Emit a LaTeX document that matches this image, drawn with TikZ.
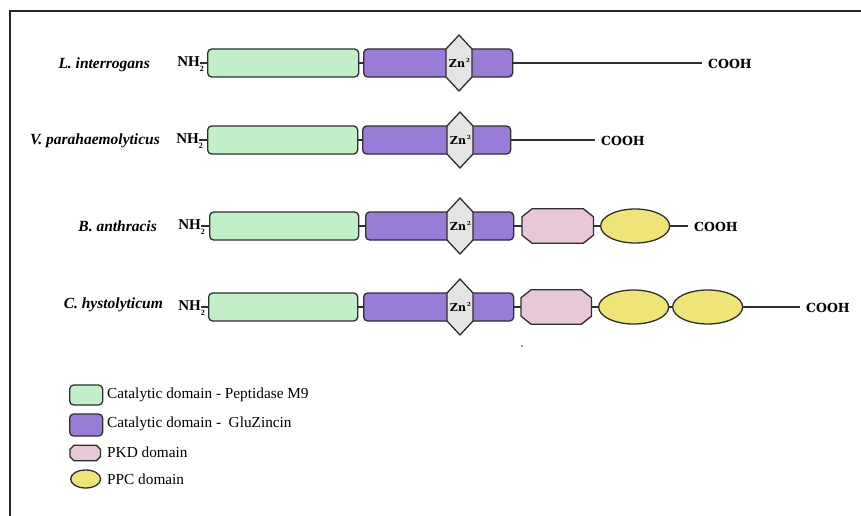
\documentclass[tikz,border=0pt]{standalone}
\usepackage{fontspec}
\setmainfont{Liberation Serif}
\newfontfamily\slabfont{DejaVu Serif}
\usetikzlibrary{shapes.geometric}
\definecolor{edge}{HTML}{2E2E2E}
\definecolor{cgreen}{HTML}{C1F0C8}
\definecolor{cpurple}{HTML}{9A7BD5}
\definecolor{cgrey}{HTML}{E4E4E4}
\definecolor{cpink}{HTML}{E6C8D8}
\definecolor{cyellow}{HTML}{EEE478}
\newcommand\pkdshape[1]{%
  \draw[pkdline] ([xshift=10pt]#1.north west) -- ([xshift=-10pt]#1.north east)
    -- ([yshift=-8pt]#1.north east) -- ([yshift=8pt]#1.south east)
    -- ([xshift=-10pt]#1.south east) -- ([xshift=10pt]#1.south west)
    -- ([yshift=8pt]#1.south west) -- ([yshift=-8pt]#1.north west) -- cycle;}
\newcommand\znshape[1]{%
  \draw[znline] ([yshift=28pt]#1) -- ([shift={(13pt,14pt)}]#1) -- ([shift={(13pt,-14pt)}]#1)
    -- ([yshift=-28pt]#1) -- ([shift={(-13pt,-14pt)}]#1) -- ([shift={(-13pt,14pt)}]#1) -- cycle;}
\newcommand\nhtext{NH\rlap{\raisebox{-4.5pt}{\fontsize{8}{8}\selectfont 2}}}
\newcommand\zntext{Zn\rlap{\kern1pt\raisebox{5pt}{\fontsize{5.5}{6}\selectfont 2}}}
\begin{document}
\begin{tikzpicture}[x=1pt,y=-1pt,
  dom/.style={draw=edge, line width=1.3pt, rounded corners=4pt, minimum height=28pt, inner sep=0pt, anchor=west},
  gbox/.style={dom, fill=cgreen},
  pbox/.style={dom, fill=cpurple},
  pkdbox/.style={inner sep=0pt, minimum height=34pt, anchor=west},
  pkdline/.style={draw=edge, line width=1.3pt, fill=cpink},
  znline/.style={draw=edge, line width=1.3pt, fill=cgrey},
  znlabel/.style={inner sep=0pt, xshift=-2pt, font=\slabfont\bfseries\fontsize{11}{11}\selectfont},
  ppc/.style={ellipse, draw=edge, line width=1.3pt, fill=cyellow, inner sep=0pt, minimum height=34pt, anchor=west},
  conn/.style={draw=edge, line width=1.2pt},
  species/.style={anchor=east, inner sep=0pt, font=\fontsize{15.5}{18}\selectfont\bfseries\itshape},
  nh/.style={anchor=east, inner sep=0pt, font=\fontsize{15}{16}\selectfont\bfseries},
  cooh/.style={anchor=west, inner sep=0pt, inner xsep=6pt, font=\slabfont\bfseries\fontsize{12.5}{14}\selectfont},
  legtext/.style={anchor=west, inner sep=0pt, font=\fontsize{15.3}{18}\selectfont},
  frame/.style={draw=black!85, line width=2pt}]
\useasboundingbox (0,0) rectangle (861,516);
\coordinate (ftl) at (10,11);
\coordinate (ftr) at (861,11);
\coordinate (fbl) at (10,516);
\draw[frame] (ftr) -- (ftl) -- (fbl);

% Row 1
\node[species] (s1) at (150,65) {L. interrogans};
\node[gbox, minimum width=151pt] (g1) at (207,63) {};
\node[pbox, minimum width=149pt] (p1) at (363,63) {};
\node[nh] (n1) at (200,64) {\nhtext};
\node[cooh] (c1) at (702,64) {COOH};
\draw[conn] (g1.west) -- (g1.west -| n1.east);
\draw[conn] (g1) -- (p1);
\draw[conn] (p1.east) -- (p1.east -| c1.west);
\coordinate (zc1) at (459,63);
\znshape{zc1}
\node[znlabel] (z1) at (zc1) {\zntext};

% Row 2
\node[species] (s2) at (160,141) {V. parahaemolyticus};
\node[gbox, minimum width=150pt] (g2) at (207,140) {};
\node[pbox, minimum width=148pt] (p2) at (362,140) {};
\node[nh] (n2) at (199,141) {\nhtext};
\node[cooh] (c2) at (595,141) {COOH};
\draw[conn] (g2.west) -- (g2.west -| n2.east);
\draw[conn] (g2) -- (p2);
\draw[conn] (p2.east) -- (p2.east -| c2.west);
\coordinate (zc2) at (460,140);
\znshape{zc2}
\node[znlabel] (z2) at (zc2) {\zntext};

% Row 3
\node[species] (s3) at (157,226) {B. anthracis};
\node[gbox, minimum width=149pt] (g3) at (209,226) {};
\node[pbox, minimum width=148pt] (p3) at (365,226) {};
\node[pkdbox, minimum width=71pt] (k3) at (522,226) {};
\node[ppc, minimum width=69pt] (e3) at (600,226) {};
\node[nh] (n3) at (201,227) {\nhtext};
\node[cooh] (c3) at (688,227) {COOH};
\draw[conn] (g3.west) -- (g3.west -| n3.east);
\draw[conn] (g3) -- (p3);
\draw[conn] (p3) -- (k3);
\draw[conn] (k3) -- (e3);
\draw[conn] (e3.east) -- (e3.east -| c3.west);
\pkdshape{k3}
\coordinate (zc3) at (460,226);
\znshape{zc3}
\node[znlabel] (z3) at (zc3) {\zntext};

% Row 4
\node[species] (s4) at (163,305) {C. hystolyticum};
\node[gbox, minimum width=149pt] (g4) at (208,307) {};
\node[pbox, minimum width=150pt] (p4) at (363,307) {};
\node[pkdbox, minimum width=70pt] (k4) at (521,307) {};
\node[ppc, minimum width=70pt] (e4) at (598,307) {};
\node[ppc, minimum width=70pt] (f4) at (672,307) {};
\node[nh] (n4) at (201,308) {\nhtext};
\node[cooh] (c4) at (800,308) {COOH};
\draw[conn] (g4.west) -- (g4.west -| n4.east);
\draw[conn] (g4) -- (p4);
\draw[conn] (p4) -- (k4);
\draw[conn] (k4) -- (e4);
\draw[conn] (e4) -- (f4);
\draw[conn] (f4.east) -- (f4.east -| c4.west);
\pkdshape{k4}
\coordinate (zc4) at (460,307);
\znshape{zc4}
\node[znlabel] (z4) at (zc4) {\zntext};

\fill[edge] (522,346) circle (0.9);

% Legend
\node[gbox, minimum width=33pt, minimum height=20pt] (lg) at (69,395) {};
\node[legtext] (tg) at (107,395) {Catalytic domain - Peptidase M9};
\node[pbox, minimum width=33pt, minimum height=22pt] (lp) at (69,425) {};
\node[legtext] (tp) at (107,424) {Catalytic domain -\ \ GluZincin};
\node[pkdbox, minimum width=30pt, minimum height=15pt] (lk) at (70,453) {};
\draw[pkdline] ([xshift=4pt]lk.north west) -- ([xshift=-4pt]lk.north east)
    -- ([yshift=-4pt]lk.north east) -- ([yshift=4pt]lk.south east)
    -- ([xshift=-4pt]lk.south east) -- ([xshift=4pt]lk.south west)
    -- ([yshift=4pt]lk.south west) -- ([yshift=-4pt]lk.north west) -- cycle;
\node[legtext] (tk) at (107,452) {PKD domain};
\node[ppc, minimum width=30pt, minimum height=18pt] (le) at (70,479) {};
\node[legtext] (te) at (107,479) {PPC domain};
\end{tikzpicture}
\end{document}
